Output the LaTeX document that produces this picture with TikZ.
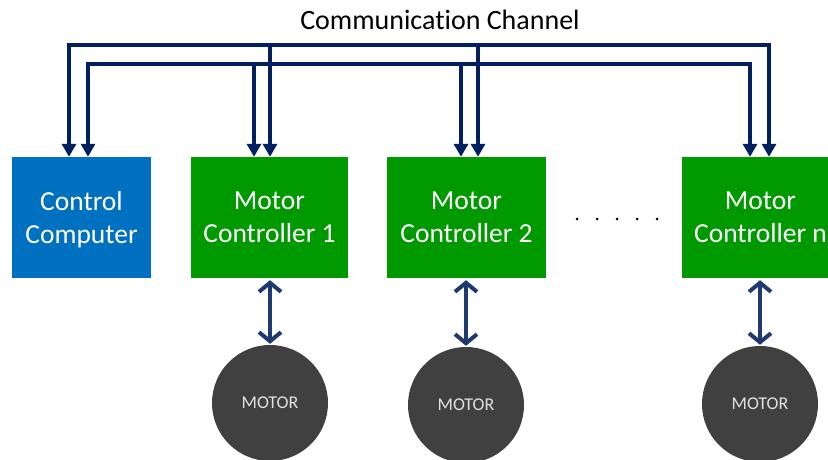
\documentclass[tikz,border=0pt]{standalone}
\usepackage{fontspec}
\setmainfont{Carlito}[Ligatures={NoCommon}]
\usetikzlibrary{arrows.meta}
\definecolor{ccblue}{RGB}{0,112,192}
\definecolor{mcgreen}{RGB}{0,153,0}
\definecolor{busnavy}{RGB}{0,32,96}
\definecolor{linkblue}{RGB}{31,58,110}
\definecolor{motorgray}{RGB}{64,64,64}
\definecolor{motortext}{RGB}{225,225,225}
\begin{document}
\begin{tikzpicture}[x=1pt,y=-1pt,
  box/.style={rectangle,minimum height=121pt,inner sep=0pt},
  boxtext/.style={inner sep=0pt,text=white,text depth=0pt,
    font=\fontsize{27.5}{33}\selectfont,align=center},
  ccbox/.style={box,fill=ccblue,minimum width=139pt},
  mcbox/.style={box,fill=mcgreen,minimum width=157pt},
  motor/.style={circle,fill=motorgray,minimum size=116pt,inner sep=0pt,
    text=motortext,font=\fontsize{18}{20}\selectfont},
  bus/.style={draw=busnavy,line width=4pt},
  tri/.style={-{Triangle[length=13pt,width=14pt]}},
  link/.style={draw=linkblue,line width=4pt,
    {Straight Barb[length=9pt,width=22pt]}-{Straight Barb[length=9pt,width=22pt]}},
  dotmark/.style={circle,fill=black,inner sep=0pt,minimum size=3pt}]
\useasboundingbox (0,0) rectangle (828,460);
\fill[white] (0,0) rectangle (828,460);

\node[font=\fontsize{28}{33}\selectfont,anchor=base] (title) at (440,30) {Communication Channel};

\node[ccbox] (cc) at (81.5,217.5) {};
\node[mcbox] (mc1) at (269.5,217.5) {};
\node[mcbox,minimum width=159pt] (mc2) at (466.5,217.5) {};
\node[mcbox] (mcn) at (760.5,217.5) {};
\node[boxtext] (cct) at (cc.center) {Control\\Computer};
\node[boxtext] (mc1t) at (mc1.center) {Motor\\Controller 1};
\node[boxtext] (mc2t) at (mc2.center) {Motor\\Controller 2};
\node[boxtext] (mcnt) at (mcn.center) {Motor\\Controller n};

\foreach \i/\x in {1/577,2/597,3/617,4/637,5/657}
  \node[dotmark] (d\i) at (\x,219) {};

\node[motor] (m1) at (270,403) {MOTOR};
\node[motor] (m2) at (466,405) {MOTOR};
\node[motor] (mn) at (760,404) {MOTOR};

\coordinate (busO) at (0,45);
\coordinate (busI) at (0,64);
\coordinate (ccA) at ([xshift=-12.5pt]cc.north);
\coordinate (ccB) at ([xshift=6.5pt]cc.north);
\coordinate (mc1A) at ([xshift=0.5pt]mc1.north);
\coordinate (mc1B) at ([xshift=-15.5pt]mc1.north);
\coordinate (mc2A) at ([xshift=11.5pt]mc2.north);
\coordinate (mc2B) at ([xshift=-5.5pt]mc2.north);
\coordinate (mcnA) at ([xshift=8.5pt]mcn.north);
\coordinate (mcnB) at ([xshift=-10.5pt]mcn.north);

% outer bus
\draw[bus,{Triangle[length=13pt,width=14pt]}-{Triangle[length=13pt,width=14pt]}]
  (ccA) -- (ccA |- busO) -| (mcnA);
\draw[bus,tri] (mc1A |- busO) -- (mc1A);
\draw[bus,tri] (mc2A |- busO) -- (mc2A);
% inner bus
\draw[bus,{Triangle[length=13pt,width=14pt]}-{Triangle[length=13pt,width=14pt]}]
  (ccB) -- (ccB |- busI) -| (mcnB);
\draw[bus,tri] (mc1B |- busI) -- (mc1B);
\draw[bus,tri] (mc2B |- busI) -- (mc2B);

% links to motors
\draw[link] ([yshift=-2pt]mc1.south -| m1) -- ([yshift=1pt]m1.north);
\draw[link] ([yshift=-2pt]mc2.south -| m2) -- ([yshift=1pt]m2.north);
\draw[link] ([yshift=-2pt]mcn.south -| mn) -- ([yshift=1pt]mn.north);
\end{tikzpicture}
\end{document}
